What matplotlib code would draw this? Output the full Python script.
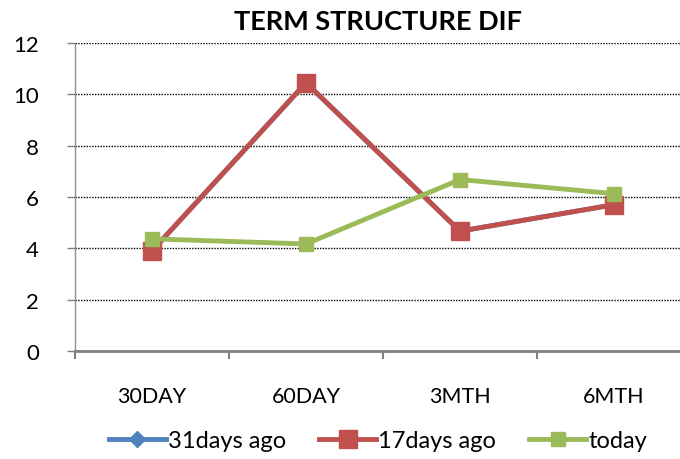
import matplotlib.pyplot as plt
import numpy as np

plt.rcParams['font.family'] = ['Lato', 'DejaVu Sans']

tenors = ['30DAY', '60DAY', '3MTH', '6MTH']
ago31 = [3.9, 10.45, 4.67, 5.7]
ago17 = [3.9, 10.45, 4.67, 5.7]
today = [4.37, 4.17, 6.68, 6.13]

fig = plt.figure(figsize=(6.8, 4.6), dpi=100)
ax = fig.add_axes([75 / 680, 108 / 460, 616 / 680, 308 / 460])

x = np.arange(len(tenors))
ax.plot(x, ago31, color='#4F81BD', lw=3.5, marker='D', ms=8, label='31days ago')
ax.plot(x, ago17, color='#C0504D', lw=3.5, marker='s', ms=12.5, label='17days ago')
ax.plot(x, today, color='#9BBB59', lw=3.5, marker='s', ms=9.5, label='today')

ax.set_xlim(-0.5, 3.5)
ax.set_ylim(0, 12)
ax.set_yticks(range(0, 13, 2))
ax.yaxis.grid(True, color='black', ls=(0, (1, 1)), lw=1.0)
ax.set_axisbelow(True)

ax.set_xticks(x)
ax.set_xticklabels(tenors, fontsize=15.5)
ax.set_xticks(np.arange(-0.5, 4, 1), minor=True)
ax.tick_params(axis='x', which='major', length=0, pad=25)
ax.tick_params(axis='x', which='minor', length=6, width=1.5, color='#808080', direction='out')
ax.tick_params(axis='y', length=6, width=1, color='#808080', pad=20, labelsize=16)

for s in ['top', 'right']:
    ax.spines[s].set_visible(False)
ax.spines['bottom'].set_color('#808080')
ax.spines['bottom'].set_linewidth(2)
ax.spines['left'].set_color('#909090')
ax.spines['left'].set_linestyle((0, (1, 1)))
ax.spines['left'].set_linewidth(1)

fig.text(378 / 680, 1 - 22 / 460, 'TERM STRUCTURE DIF', ha='center', va='center',
         fontsize=19.5, fontweight='bold')

fig.legend(loc='center', bbox_to_anchor=(378 / 680, 1 - 442 / 460), ncol=3, frameon=False,
           fontsize=17, handlelength=2.4, handletextpad=0.1, columnspacing=1.4)

fig.savefig('out.png', dpi=100)
